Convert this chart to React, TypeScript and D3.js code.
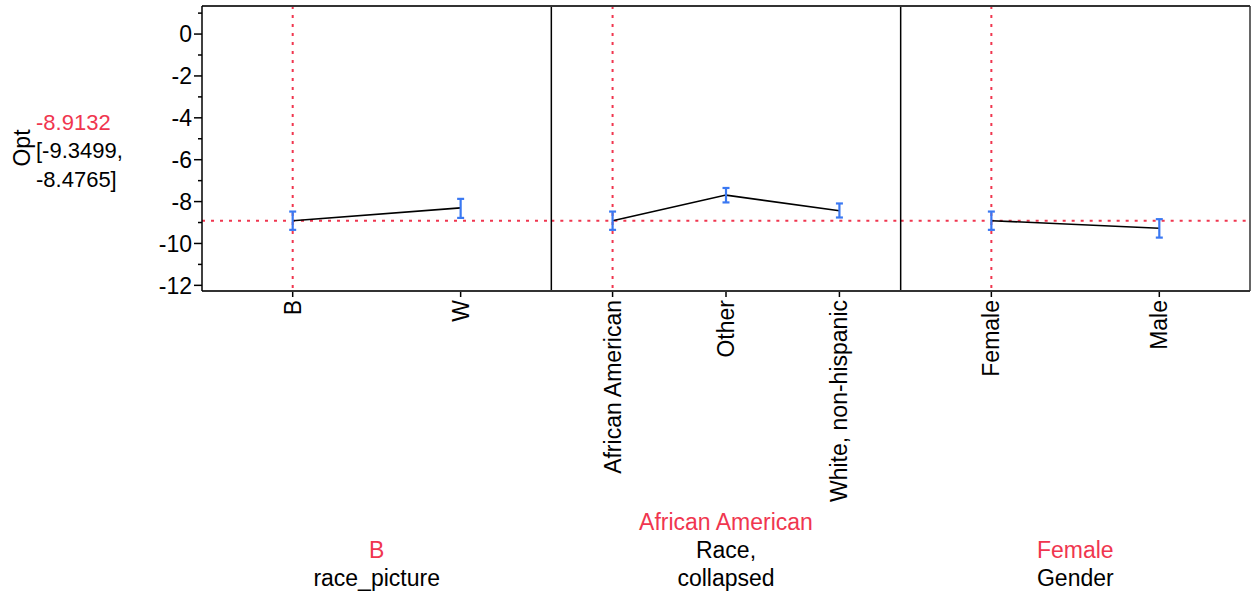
import React from "react";
import * as d3 from "d3";

// Prediction profiler: one panel per factor, y = predicted Opt with confidence interval
const factorNames = ["race_picture", "Race,\ncollapsed", "Gender"];
const currentLevels = ["B", "African American", "Female"];

const raceLevels = ["B", "W"];
const raceMean = [-8.9132, -8.3];
const raceLow = [-9.3499, -8.78];
const raceHigh = [-8.4765, -7.87];

const raceCollapsedLevels = ["African American", "Other", "White, non-hispanic"];
const raceCollapsedMean = [-8.9132, -7.69, -8.44];
const raceCollapsedLow = [-9.3499, -8.04, -8.76];
const raceCollapsedHigh = [-8.4765, -7.35, -8.09];

const genderLevels = ["Female", "Male"];
const genderMean = [-8.9132, -9.27];
const genderLow = [-9.3499, -9.72];
const genderHigh = [-8.4765, -8.84];

const yTicks = [0, -2, -4, -6, -8, -10, -12];
const yMinorTicks = [1, -1, -3, -5, -7, -9, -11];

const responseName = "Opt";
const responseValue = "-8.9132";
const responseCI = ["[-9.3499,", "-8.4765]"];
const currentPrediction = -8.9132;

const RED = "#f0364f";
const BLUE = "#3a78f2";
const FONT = "'Liberation Sans', Arial, sans-serif";
const FS = 23;

const panels = [
  { levels: raceLevels, mean: raceMean, low: raceLow, high: raceHigh },
  { levels: raceCollapsedLevels, mean: raceCollapsedMean, low: raceCollapsedLow, high: raceCollapsedHigh },
  { levels: genderLevels, mean: genderMean, low: genderLow, high: genderHigh },
];

export default function App() {
  const width = 1252;
  const height = 596;
  const left = 202;
  const right = 1250;
  const top = 6;
  const bottom = 291;
  const panelW = (right - left) / panels.length;

  const y = d3.scaleLinear().domain([1.34, -12.27]).range([top, bottom]);
  const line = d3.line<[number, number]>().x((d) => d[0]).y((d) => d[1]);

  return (
    <svg width={width} height={height} style={{ position: "absolute", left: 0, top: 0 }} fontFamily={FONT}>
      <rect x={0} y={0} width={width} height={height} fill="#fff" />

      {/* response label */}
      <text transform={`translate(30,148) rotate(-90)`} textAnchor="middle" fontSize={FS} fill="#000">
        {responseName}
      </text>
      <text x={36} y={130} fontSize={22} fill={RED}>{responseValue}</text>
      <text x={36} y={158} fontSize={22} fill="#000">{responseCI[0]}</text>
      <text x={36} y={187} fontSize={22} fill="#000">{responseCI[1]}</text>

      {/* y axis */}
      {yTicks.map((t) => (
        <g key={`t${t}`}>
          <line x1={left - 8} x2={left} y1={y(t)} y2={y(t)} stroke="#000" strokeWidth={1.5} />
          <text x={left - 10} y={y(t)} dy="0.36em" textAnchor="end" fontSize={FS} fill="#000">
            {t}
          </text>
        </g>
      ))}
      {yMinorTicks.map((t) => (
        <line key={`m${t}`} x1={left - 4} x2={left} y1={y(t)} y2={y(t)} stroke="#000" strokeWidth={1.5} />
      ))}

      {panels.map((p, i) => {
        const x0 = left + i * panelW;
        const x = d3.scalePoint<string>().domain(p.levels).range([x0, x0 + panelW]).padding(0.54);
        const pts: [number, number][] = p.levels.map((l, j) => [x(l)!, y(p.mean[j])]);
        const cx = x(currentLevels[i])!;
        const nameLines = factorNames[i].split("\n");
        const mid = x0 + panelW / 2;
        return (
          <g key={i}>
            {/* current-setting crosshair */}
            <line x1={cx} x2={cx} y1={top} y2={bottom} stroke={RED} strokeWidth={2} strokeDasharray="3,6" />
            <line x1={x0} x2={x0 + panelW} y1={y(currentPrediction)} y2={y(currentPrediction)} stroke={RED} strokeWidth={2} strokeDasharray="3,6" />

            <path d={line(pts)!} fill="none" stroke="#000" strokeWidth={1.6} />

            {p.levels.map((l, j) => {
              const xx = x(l)!;
              return (
                <g key={l} stroke={BLUE} strokeWidth={2.2}>
                  <line x1={xx} x2={xx} y1={y(p.low[j])} y2={y(p.high[j])} />
                  <line x1={xx - 3.5} x2={xx + 3.5} y1={y(p.low[j])} y2={y(p.low[j])} />
                  <line x1={xx - 3.5} x2={xx + 3.5} y1={y(p.high[j])} y2={y(p.high[j])} />
                </g>
              );
            })}

            {/* x ticks and rotated level labels */}
            {p.levels.map((l) => {
              const xx = x(l)!;
              return (
                <g key={`x${l}`}>
                  <line x1={xx} x2={xx} y1={bottom} y2={bottom + 6} stroke="#000" strokeWidth={1.5} />
                  <text transform={`translate(${xx + 8},${bottom + 9}) rotate(-90)`} textAnchor="end" fontSize={FS} fill="#000">
                    {l}
                  </text>
                </g>
              );
            })}

            {/* factor title with current level */}
            <text x={mid} y={586 - nameLines.length * 28} textAnchor="middle" fontSize={FS} fill={RED}>
              {currentLevels[i]}
            </text>
            {nameLines.map((s, k) => (
              <text key={k} x={mid} y={586 - (nameLines.length - 1 - k) * 28} textAnchor="middle" fontSize={FS} fill="#000">
                {s}
              </text>
            ))}

            {i > 0 && <line x1={x0} x2={x0} y1={top} y2={bottom} stroke="#000" strokeWidth={1.5} />}
          </g>
        );
      })}

      {/* frame */}
      <line x1={left} x2={right} y1={top} y2={top} stroke="#333" strokeWidth={2} />
      <line x1={left} x2={right} y1={bottom} y2={bottom} stroke="#333" strokeWidth={2} />
      <line x1={left} x2={left} y1={top} y2={bottom} stroke="#000" strokeWidth={1.5} />
      <line x1={right} x2={right} y1={top} y2={bottom} stroke="#333" strokeWidth={1.5} />
    </svg>
  );
}
